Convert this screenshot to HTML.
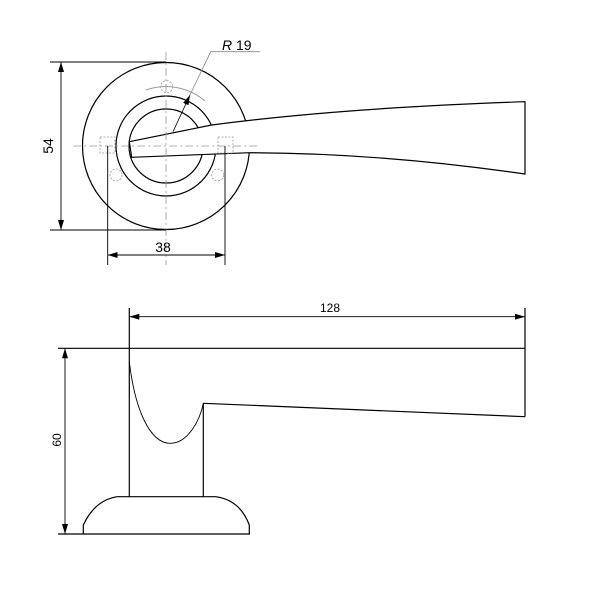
<!DOCTYPE html>
<html><head><style>body{margin:0;background:#fff}svg{display:block}</style></head><body>
<svg width="600" height="600" viewBox="0 0 600 600" xmlns="http://www.w3.org/2000/svg" font-family="Liberation Sans, sans-serif">
<defs><marker id="a" viewBox="0 0 10 6" refX="10" refY="3" markerWidth="10" markerHeight="6" orient="auto-start-reverse" markerUnits="userSpaceOnUse"><path d="M0,0L10,3L0,6z" fill="#000"/></marker></defs>
<g stroke="#000" fill="none" stroke-width="1.2">
<circle cx="166" cy="146" r="83.5"/>
<circle cx="166" cy="146" r="50"/>
<circle cx="166" cy="146" r="37"/>
</g>
<path d="M146,90 A60,60 0 0 1 205,101" stroke="#999" fill="none"/>
<path d="M129.3,141.7 L211.7,125 Q340,108 525,101.7 L525,174 Q380,153 250,152.7 L131.7,157.3 Z" fill="#fff" stroke="#000" stroke-width="1.2"/>
<g stroke="#999" stroke-width="0.8" fill="none" stroke-dasharray="8,3,2,3">
<line x1="166" y1="52" x2="166" y2="265"/>
<line x1="73" y1="146" x2="258" y2="146"/>
</g>
<g stroke="#999" stroke-dasharray="2,1.5" fill="none" stroke-width="0.8">
<circle cx="166.7" cy="86.7" r="6"/><circle cx="116" cy="175" r="6"/><circle cx="217.7" cy="175" r="6"/>
<rect x="100" y="137" width="15" height="16"/><rect x="218" y="137" width="15" height="16"/>
</g>
<g stroke="#000" stroke-width="0.9" fill="none">
<line x1="50" y1="62" x2="166" y2="62"/><line x1="50" y1="230" x2="166" y2="230"/>
<line x1="61" y1="62" x2="61" y2="230" marker-start="url(#a)" marker-end="url(#a)"/>
<line x1="107.7" y1="146" x2="107.7" y2="265"/><line x1="225" y1="146" x2="225" y2="265"/>
<line x1="107.7" y1="255" x2="225" y2="255" marker-start="url(#a)" marker-end="url(#a)"/>
</g>
<line x1="173" y1="131.7" x2="190" y2="95" stroke="#000" stroke-width="0.8" marker-end="url(#a)"/>
<polyline points="190,95 210.7,51.7 260,51.7" stroke="#888" fill="none" stroke-width="0.8"/>
<text x="222" y="50" font-size="14"><tspan font-style="italic">R</tspan> 19</text>
<text x="163" y="252" font-size="14" text-anchor="middle">38</text>
<text transform="translate(53,146) rotate(-90)" font-size="14" text-anchor="middle">54</text>
<g stroke="#000" stroke-width="1.2" fill="none">
<line x1="58" y1="348.3" x2="525" y2="348.3"/>
<line x1="129.3" y1="308" x2="129.3" y2="497"/>
<line x1="525" y1="308" x2="525" y2="416.7"/>
<line x1="203.3" y1="403.3" x2="525" y2="416.7"/>
<line x1="203.3" y1="403.3" x2="203.3" y2="496.7"/>
<path d="M129.3,361.7 C135,410 150,443 170,443.3 C188,443.5 200,420 203.3,403.3" stroke-width="0.9"/>
<path d="M83.3,534 L83.3,525 Q95,500 117.3,496.7 L215.7,496.7 Q240,500 249.3,525 L249.3,534"/>
<line x1="58" y1="534" x2="250" y2="534"/>
</g>
<line x1="129.3" y1="316.7" x2="525" y2="316.7" stroke="#000" stroke-width="0.9" marker-start="url(#a)" marker-end="url(#a)"/>
<line x1="65" y1="348.3" x2="65" y2="534" stroke="#000" stroke-width="0.9" marker-start="url(#a)" marker-end="url(#a)"/>
<text x="330" y="312" font-size="12" text-anchor="middle">128</text>
<text transform="translate(61,440) rotate(-90)" font-size="12" text-anchor="middle">60</text>
</svg>
</body></html>
